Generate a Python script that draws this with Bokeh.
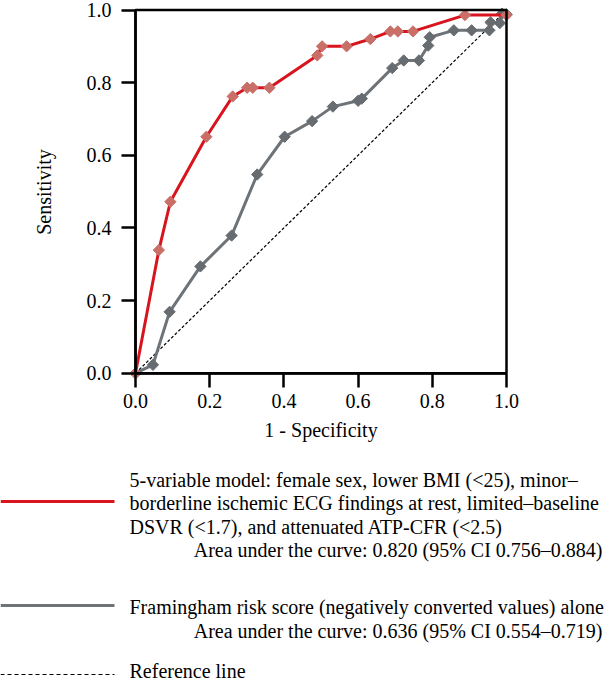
import numpy as np
from bokeh.plotting import figure
from bokeh.models import Range1d, FixedTicker, BoxAnnotation
from bokeh.embed import file_html
from bokeh.resources import INLINE
from bokeh.core.properties import value

# ---- data ----
model_fpr = [0.0, 0.063, 0.094, 0.191, 0.262, 0.301, 0.316, 0.361, 0.490, 0.503, 0.569, 0.633, 0.687, 0.707, 0.748, 0.888, 1.0]
model_tpr = [0.0, 0.339, 0.472, 0.651, 0.762, 0.786, 0.786, 0.786, 0.875, 0.900, 0.900, 0.920, 0.941, 0.941, 0.941, 0.986, 0.986]

fram_fpr = [0.0, 0.047, 0.092, 0.175, 0.259, 0.328, 0.402, 0.476, 0.532, 0.600, 0.610, 0.692, 0.723, 0.764, 0.789, 0.793, 0.858, 0.906, 0.954, 0.957, 0.982, 0.988, 1.0]
fram_tpr = [0.0, 0.023, 0.169, 0.294, 0.379, 0.547, 0.651, 0.694, 0.734, 0.750, 0.756, 0.840, 0.861, 0.861, 0.902, 0.925, 0.944, 0.944, 0.944, 0.966, 0.964, 0.990, 0.988]

ref_x = [0.0, 1.0]
ref_y = [0.0, 1.0]

tick_values = [0.0, 0.2, 0.4, 0.6, 0.8, 1.0]
tick_labels = ["0.0", "0.2", "0.4", "0.6", "0.8", "1.0"]

x_title = "1 - Specificity"
y_title = "Sensitivity"

legend_model = ["5-variable model: female sex, lower BMI (<25), minor\u2013",
                "borderline ischemic ECG findings at rest, limited\u2013baseline",
                "DSVR (<1.7), and attenuated ATP-CFR (<2.5)"]
legend_model_auc = "Area under the curve: 0.820 (95% CI 0.756\u20130.884)"
legend_fram = "Framingham risk score (negatively converted values) alone"
legend_fram_auc = "Area under the curve: 0.636 (95% CI 0.554\u20130.719)"
legend_ref = "Reference line"

RED_LINE = "#d8141e"
RED_MARK = "#c96f68"
GRAY_LINE = "#6e7378"
GRAY_MARK = "#676c71"
FONT = "Liberation Serif"

W, H = 607, 682
# plot box in canvas pixels
PX_L, PX_R, PX_T, PX_B = 135.0, 506.0, 9.5, 372.7
sx = (PX_R - PX_L)
sy = (PX_B - PX_T)
x_range = Range1d(-PX_L / sx, (W - PX_L) / sx)
y_range = Range1d(-(H - PX_B) / sy, PX_B / sy)

p = figure(width=W, height=H, x_range=x_range, y_range=y_range,
           output_backend="svg", toolbar_location=None,
           min_border_left=0, min_border_right=0, min_border_top=0, min_border_bottom=0)
p.extra_x_ranges = {"px": Range1d(0, W)}
p.extra_y_ranges = {"px": Range1d(H, 0)}
p.grid.visible = False
p.outline_line_color = None

for ax in (p.xaxis[0], p.yaxis[0]):
    ax.fixed_location = 0
    ax.bounds = (0, 1)
    ax.ticker = FixedTicker(ticks=tick_values)
    ax.major_label_overrides = {v: l for v, l in zip(tick_values, tick_labels)}
    ax.axis_line_width = 2.5
    ax.major_tick_line_width = 2.5
    ax.major_tick_in = 0
    ax.major_tick_out = 14
    ax.minor_tick_line_color = None
    ax.major_label_text_font = FONT
    ax.major_label_text_font_size = "20px"
    ax.major_label_text_color = "black"
    ax.axis_label_text_font = FONT
    ax.axis_label_text_font_size = "20px"
    ax.axis_label_text_font_style = "normal"
    ax.axis_label_text_color = "black"

p.xaxis.axis_label = x_title
p.yaxis.axis_label = y_title
p.xaxis.major_label_standoff = 7
p.yaxis.major_label_standoff = 10
p.xaxis.axis_label_standoff = 7
p.yaxis.axis_label_standoff = 29

p.add_layout(BoxAnnotation(left=0, right=1, bottom=0, top=1, fill_alpha=0,
                           line_color="black", line_alpha=1.0, line_width=2.5))

p.line(ref_x, ref_y, line_color="black", line_width=1.2, line_dash="3 2")
p.line(fram_fpr, fram_tpr, line_color=GRAY_LINE, line_width=3)
p.scatter(fram_fpr, fram_tpr, marker="square", angle=np.pi / 4, size=8,
          fill_color=GRAY_MARK, line_color=GRAY_MARK)
p.line(model_fpr, model_tpr, line_color=RED_LINE, line_width=3)
p.scatter(model_fpr, model_tpr, marker="square", angle=np.pi / 4, size=8,
          fill_color=RED_MARK, line_color=RED_MARK)

# ---- legend below the plot (pixel ranges) ----
FS = "20px"
TX = 129
RX = 602
kw = dict(x_range_name="px", y_range_name="px", text_font=value(FONT),
          text_font_size=FS, text_baseline="middle", text_color="black")

p.line([0, 114], [501, 501], line_color=RED_LINE, line_width=3,
       x_range_name="px", y_range_name="px")
p.text(x=[TX] * 3, y=[479, 502.5, 526], text=legend_model, text_align="left", **kw)
p.text(x=[RX], y=[549.5], text=[legend_model_auc], text_align="right", **kw)

p.line([0, 114], [605, 605], line_color=GRAY_LINE, line_width=3,
       x_range_name="px", y_range_name="px")
p.text(x=[TX], y=[606], text=[legend_fram], text_align="left", **kw)
p.text(x=[RX], y=[630.5], text=[legend_fram_auc], text_align="right", **kw)

p.line([0, 114], [674, 674], line_color="black", line_width=1.2, line_dash="4 3",
       x_range_name="px", y_range_name="px")
p.text(x=[TX], y=[670], text=[legend_ref], text_align="left", **kw)

open("out.html", "w").write(file_html(p, INLINE))
